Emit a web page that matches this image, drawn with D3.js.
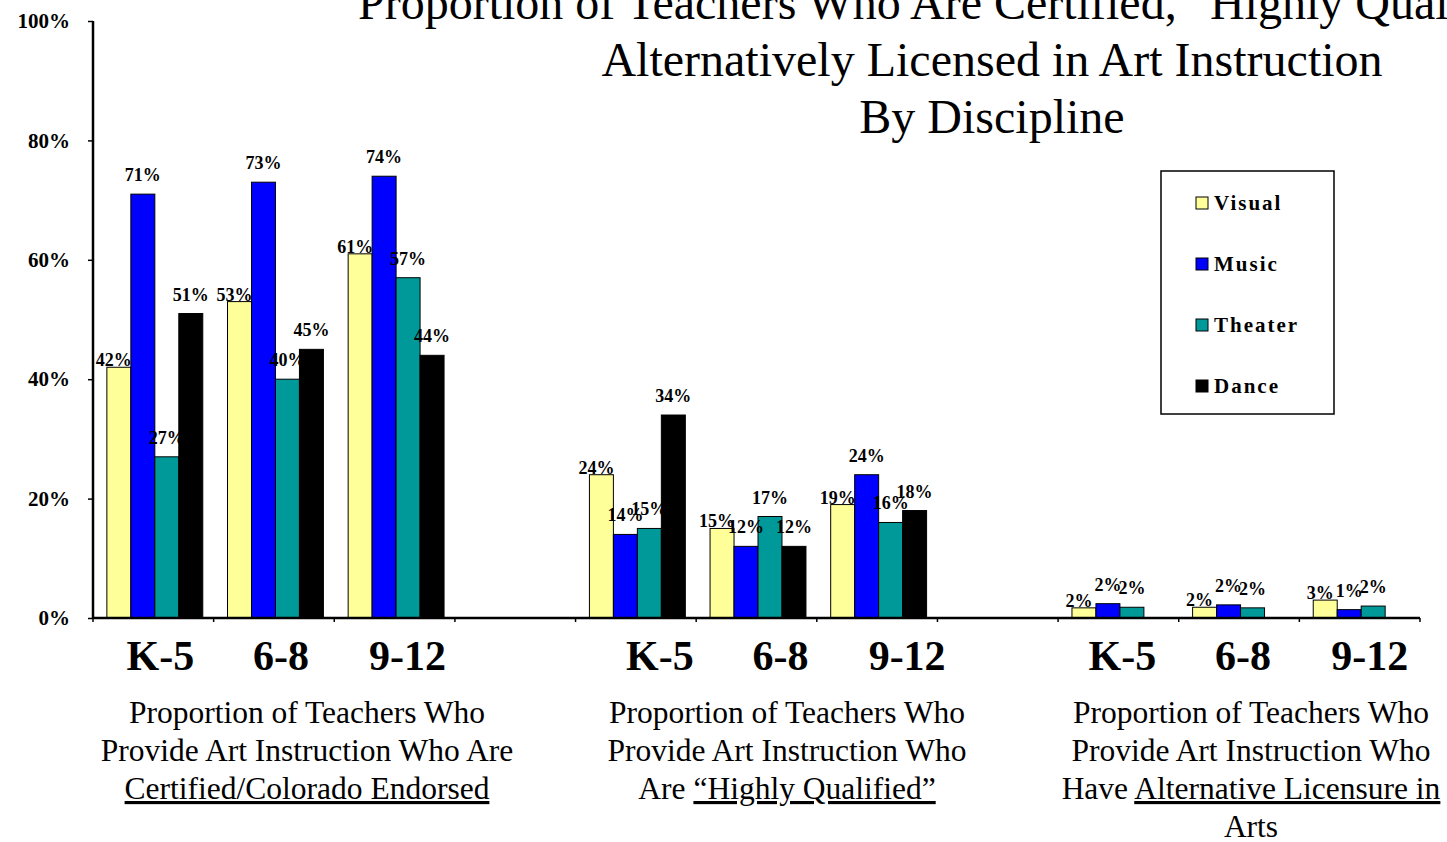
<!DOCTYPE html>
<html>
<head>
<meta charset="utf-8">
<script src="https://cdn.jsdelivr.net/npm/d3@7"></script>
<style>
  body { margin: 0; background: #fff; }
  svg { display: block; }
  text { font-family: "Liberation Serif", "Times New Roman", serif; fill: #000; }
</style>
</head>
<body>
<svg id="chart" width="1447" height="842"></svg>
<script>
// data
const grades = ['K-5', '6-8', '9-12'];
const groupNames = ['Certified/Colorado Endorsed', 'Highly Qualified', 'Alternative Licensure'];
const seriesNames = ['Visual', 'Music', 'Theater', 'Dance'];
const visual  = [42, 53, 61, 24, 15, 19, 1.7, 1.8, 3.0];
const music   = [71, 73, 74, 14, 12, 24, 2.4, 2.2, 1.4];
const theater = [27, 40, 57, 15, 17, 16, 1.8, 1.7, 2.0];
const dance   = [51, 45, 44, 34, 12, 18, null, null, null];
const yTicks  = [0, 20, 40, 60, 80, 100];

const seriesValues = [visual, music, theater, dance];
const colors = ['#FFFF99', '#0000FF', '#009999', '#000000'];

const svg = d3.select('#chart');
const mLeft = 93, mRight = 1420, mTop = 21, mBottom = 618;

// 11 slots: 3 grades per group, an empty slot between groups
const slots = d3.range(11);
const x = d3.scaleBand().domain(slots).range([mLeft, mRight]);
const bw = x.bandwidth();
const xs = d3.scaleBand().domain(seriesNames).range([bw * 0.115, bw * 0.91]);
const y = d3.scaleLinear().domain([0, 100]).range([mBottom, mTop]);

const slotOf = i => Math.floor(i / 3) * 4 + (i % 3);

// flatten
const bars = [];
seriesNames.forEach((s, si) => {
  seriesValues[si].forEach((v, i) => {
    if (v == null) return;
    bars.push({ series: s, si, i, v, slot: slotOf(i) });
  });
});

// bars
svg.append('g').selectAll('rect')
  .data(bars)
  .enter().append('rect')
    .attr('x', d => x(d.slot) + xs(d.series))
    .attr('y', d => y(d.v))
    .attr('width', xs.bandwidth())
    .attr('height', d => y(0) - y(d.v))
    .attr('fill', d => colors[d.si])
    .attr('stroke', '#000')
    .attr('stroke-width', 1);

// value labels
svg.append('g').selectAll('text')
  .data(bars)
  .enter().append('text')
    .attr('x', d => x(d.slot) + xs(d.series) + xs.bandwidth() / 2 - (d.si === 0 ? 5 : 0))
    .attr('y', d => y(d.v) - (d.si === 0 ? 1 : 13))
    .attr('text-anchor', 'middle')
    .attr('font-size', 18)
    .attr('font-weight', 'bold')
    .text(d => Math.round(d.v) + '%');

// y axis
const yAxis = svg.append('g').attr('transform', `translate(${mLeft},0)`)
  .call(d3.axisLeft(y).tickValues(yTicks).tickSize(5).tickFormat(d => d + '%'));
yAxis.select('.domain').attr('stroke-width', 2.5).attr('d', `M0,${mTop}V${mBottom}`);
yAxis.selectAll('.tick line').attr('stroke-width', 1.5);
yAxis.selectAll('.tick text')
  .attr('x', -23)
  .attr('font-family', '"Liberation Serif", serif')
  .attr('font-size', 21)
  .attr('font-weight', 'bold')
  .attr('fill', '#000');

// x axis
const xAxis = svg.append('g').attr('transform', `translate(0,${mBottom})`);
xAxis.append('line')
  .attr('x1', mLeft).attr('x2', mRight)
  .attr('stroke', '#000').attr('stroke-width', 2.5);
xAxis.selectAll('line.tk')
  .data(slots.concat([11]))
  .enter().append('line')
    .attr('class', 'tk')
    .attr('x1', d => mLeft + d * bw).attr('x2', d => mLeft + d * bw)
    .attr('y1', 0).attr('y2', 4)
    .attr('stroke', '#000').attr('stroke-width', 1.5);

// grade labels (text boxes, slightly offset per group)
const gradeShift = [7, 24, 4];
const gradeLabels = [];
groupNames.forEach((g, gi) => grades.forEach((gr, k) =>
  gradeLabels.push({ gr, gi, slot: gi * 4 + k })));
svg.append('g').selectAll('text')
  .data(gradeLabels)
  .enter().append('text')
    .attr('x', d => x(d.slot) + bw / 2 + gradeShift[d.gi] + (d.gr === '9-12' ? 6 : 0))
    .attr('y', 670)
    .attr('text-anchor', 'middle')
    .attr('font-size', 42)
    .attr('font-weight', 'bold')
    .text(d => d.gr);

// group descriptions
const groupLines = [
  [[['Proportion of Teachers Who', false]],
   [['Provide Art Instruction Who Are', false]],
   [['Certified/Colorado Endorsed', true]]],
  [[['Proportion of Teachers Who', false]],
   [['Provide Art Instruction Who', false]],
   [['Are ', false], ['\u201CHighly Qualified\u201D', true]]],
  [[['Proportion of Teachers Who', false]],
   [['Provide Art Instruction Who', false]],
   [['Have ', false], ['Alternative Licensure in', true]],
   [['Arts', false]]]
];
const groupCenter = [307, 787, 1251];
groupLines.forEach((lines, gi) => {
  lines.forEach((parts, li) => {
    const t = svg.append('text')
      .attr('x', groupCenter[gi])
      .attr('y', 723 + li * 38)
      .attr('text-anchor', 'middle')
      .attr('font-size', 31.5);
    parts.forEach(p => {
      t.append('tspan')
        .attr('text-decoration', p[1] ? 'underline' : null)
        .text(p[0]);
    });
  });
});

// title
const title = svg.append('g').attr('font-size', 48);
title.append('text').attr('x', 358).attr('y', 19)
  .text('Proportion of Teachers Who Are Certified, \u201CHighly Qualified\u201D or');
title.append('text').attr('x', 992).attr('y', 76).attr('text-anchor', 'middle')
  .text('Alternatively Licensed in Art Instruction');
title.append('text').attr('x', 992).attr('y', 133).attr('text-anchor', 'middle')
  .text('By Discipline');

// legend
const legend = svg.append('g').attr('transform', 'translate(1161,171)');
legend.append('rect')
  .attr('width', 173).attr('height', 243)
  .attr('fill', '#fff').attr('stroke', '#000').attr('stroke-width', 1.5);
const li = legend.selectAll('g.item')
  .data(seriesNames)
  .enter().append('g')
    .attr('class', 'item')
    .attr('transform', (d, i) => `translate(35,${32 + i * 61})`);
li.append('rect')
  .attr('x', 0).attr('y', -6).attr('width', 12).attr('height', 12)
  .attr('fill', (d, i) => colors[i]).attr('stroke', '#000').attr('stroke-width', 1);
li.append('text')
  .attr('x', 18).attr('y', 7)
  .attr('font-size', 21)
  .attr('font-weight', 'bold')
  .attr('letter-spacing', 2)
  .text(d => d);
</script>
</body>
</html>
